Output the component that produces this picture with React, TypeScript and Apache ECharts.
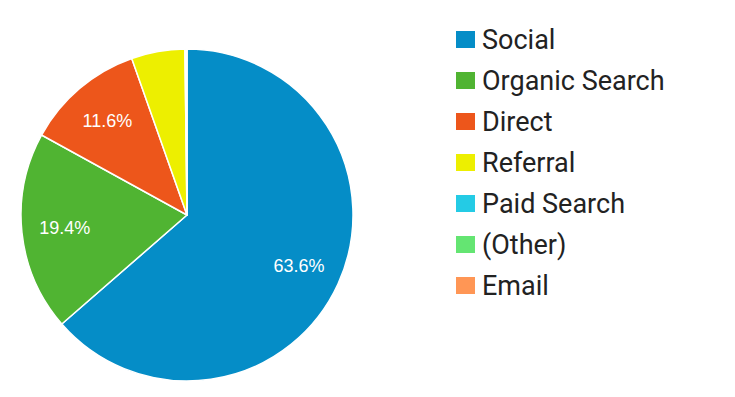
import React, { useEffect, useRef } from "react";
import * as echarts from "echarts";

const categories = ["Social", "Organic Search", "Direct", "Referral", "Paid Search", "(Other)", "Email"];
const shares = [63.6, 19.4, 11.6, 5.2, 0.1, 0.05, 0.05];
const colors = ["#058DC7", "#50B432", "#ED561B", "#EDEF00", "#24CBE5", "#64E572", "#FF9655"];

export default function App() {
  const ref = useRef<HTMLDivElement>(null);
  useEffect(() => {
    if (!ref.current) return;
    const chart = echarts.init(ref.current, null, { renderer: "svg" });
    const data = categories.map((name, i) => ({ name, value: shares[i], itemStyle: { color: colors[i] } }));
    chart.setOption({
      animation: false,
      backgroundColor: "#ffffff",
      legend: {
        orient: "vertical",
        left: 449,
        top: 21,
        data: categories,
        icon: "rect",
        itemWidth: 21,
        itemHeight: 19,
        itemGap: 14,
        textStyle: {
          fontFamily: "Roboto",
          fontSize: 27,
          color: "#222222",
          padding: [0, 0, 0, 1],
        },
        selectedMode: false,
      },
      series: [
        {
          type: "pie",
          center: [187, 215],
          radius: [0, 166],
          startAngle: 90,
          clockwise: true,
          silent: true,
          data,
          label: { show: false },
          labelLine: { show: false },
          itemStyle: { borderColor: "#ffffff", borderWidth: 1.5 },
        },
        {
          type: "pie",
          center: [187, 215],
          radius: [74, 166],
          startAngle: 90,
          clockwise: true,
          silent: true,
          data: categories.map((name, i) => ({ name, value: shares[i], itemStyle: { color: "rgba(0,0,0,0)" } })),
          itemStyle: { borderWidth: 0 },
          label: {
            show: true,
            position: "inside",
            color: "#ffffff",
            fontFamily: "Arial",
            fontSize: 18,
            formatter: (p: any) => (p.value >= 10 ? p.value.toFixed(1) + "%" : ""),
          },
          labelLine: { show: false },
        },
      ],
    });
    return () => chart.dispose();
  }, []);
  return <div ref={ref} style={{ position: "fixed", left: 0, top: 0, width: 735, height: 397 }} />;
}
